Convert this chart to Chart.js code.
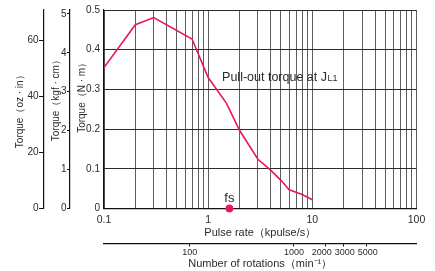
<!DOCTYPE html>
<html>
<head>
<meta charset="utf-8">
<script src="https://cdn.jsdelivr.net/npm/chart.js@4/dist/chart.umd.min.js"></script>
<style>
html,body{margin:0;padding:0;background:#fff;}
canvas{display:block;}
</style>
</head>
<body>
<canvas id="c" width="435" height="271"></canvas>
<script>
// ---- data ----
const pulseRates = [0.1, 0.2, 0.3, 0.7, 1, 1.5, 2, 3, 4, 5, 6, 8, 10];          // kpulse/s
const pullOutTorque = [0.355, 0.463, 0.481, 0.427, 0.33, 0.265, 0.197, 0.124, 0.096, 0.071, 0.047, 0.035, 0.022]; // N·m
const fsRate = [1.6];
const fsTorque = [0];
const pulseGrid = [0.1,0.2,0.3,0.4,0.5,0.6,0.7,0.8,0.9,1,2,3,4,5,6,7,8,9,10,20,30,40,50,60,70,80,90,100];
const pulseLabels = [0.1, 1, 10, 100];
const rotationTicks = [100, 1000, 2000, 3000, 5000];
const nmTicks = [0, 0.1, 0.2, 0.3, 0.4, 0.5];
const kgfTicks = [0, 1, 2, 3, 4, 5];
const ozTicks = [0, 20, 40, 60];

const NM_MAX = 0.5;
const KGF_PER_NM = 1 / 0.0980665;
const OZIN_PER_NM = 1 / 0.00706155;
const RPM_PER_KPPS = 150;

const RED = '#e8175d';
const FONT = "'Liberation Sans', Arial, sans-serif";
const TXT = '#2b2b2b';

const curve = pulseRates.map((x, i) => ({x, y: pullOutTorque[i]}));
const fsPts = fsRate.map((x, i) => ({x, y: fsTorque[i]}));

const setTicks = (vals) => (scale) => { scale.ticks = vals.map(v => ({value: v})); };

// keep crowded rotation labels from overlapping (spread them around their ticks)
const spreadLabels = {
  id: 'spreadLabels',
  beforeDraw(chart) {
    const s = chart.scales.x2;
    const items = s.getLabelItems(chart.chartArea);
    const ctx = chart.ctx;
    ctx.save();
    ctx.font = "9px " + FONT;
    const c = items.map(it => it.options.translation[0]);
    const w = items.map(it => ctx.measureText(String(it.label)).width);
    ctx.restore();
    const gap = 3;
    for (let k = 0; k < 60; k++) {
      for (let i = 0; i < c.length - 1; i++) {
        const ov = (c[i] + w[i] / 2 + gap) - (c[i + 1] - w[i + 1] / 2);
        if (ov > 0) { c[i] -= ov * 0.6; c[i + 1] += ov * 0.4; }
      }
    }
    items.forEach((it, i) => { it.options.translation[0] = c[i]; });
  }
};

const annot = {
  id: 'annot',
  afterDatasetsDraw(chart) {
    const {ctx, scales: {x, y}} = chart;
    ctx.save();
    ctx.fillStyle = TXT;
    ctx.textBaseline = 'alphabetic';
    ctx.textAlign = 'left';
    ctx.font = "12.5px " + FONT;
    const ax = x.getPixelForValue(1.36), ay = y.getPixelForValue(0.333) + 4.5;
    const main = 'Pull-out torque at J';
    ctx.fillText(main, ax, ay);
    const w = ctx.measureText(main).width;
    ctx.font = "9px " + FONT;
    ctx.fillText('L1', ax + w + 0.5, ay);
    ctx.font = "13px " + FONT;
    ctx.textAlign = 'center';
    ctx.fillText('fs', x.getPixelForValue(fsRate[0]), y.getPixelForValue(fsTorque[0]) - 7);
    ctx.restore();
  }
};

new Chart(document.getElementById('c'), {
  type: 'line',
  data: {
    datasets: [
      {data: curve, borderColor: RED, borderWidth: 1.6, pointRadius: 0, tension: 0, fill: false, xAxisID: 'x', yAxisID: 'y'},
      {type: 'scatter', data: fsPts, backgroundColor: RED, borderColor: RED, pointRadius: 3.6, clip: false, xAxisID: 'x', yAxisID: 'y'}
    ]
  },
  options: {
    responsive: false,
    animation: false,
    events: [],
    layout: {padding: {left: 8, right: 18.5, top: 7, bottom: 0}},
    plugins: {legend: {display: false}, tooltip: {enabled: false}},
    scales: {
      x: {
        type: 'logarithmic', position: 'bottom', weight: 0, min: 0.1, max: 100,
        afterBuildTicks: setTicks(pulseGrid),
        afterFit: s => { s.height = 35; },
        grid: {color: '#5e5e5e', lineWidth: 1, drawTicks: false},
        border: {color: '#111', width: 1.2},
        ticks: {autoSkip: false, maxRotation: 0, padding: 5, color: TXT, font: {family: FONT, size: 10.5},
          callback: v => pulseLabels.includes(v) ? String(v) : ''},
        title: {display: true, text: 'Pulse rate（kpulse/s）', color: TXT, font: {family: FONT, size: 11}, padding: {top: 0, bottom: 4}}
      },
      x2: {
        type: 'logarithmic', position: 'bottom', weight: 1,
        min: 0.1 * RPM_PER_KPPS, max: 100 * RPM_PER_KPPS,
        afterBuildTicks: setTicks(rotationTicks),
        afterFit: s => { s.height = 27.5; },
        grid: {drawOnChartArea: false, drawTicks: true, tickLength: 3, color: '#111'},
        border: {color: '#111', width: 1.2},
        ticks: {autoSkip: false, maxRotation: 0, padding: 1, color: TXT, font: {family: FONT, size: 9},
          callback: v => String(v)},
        title: {display: true, text: 'Number of rotations（min⁻¹）', color: TXT, font: {family: FONT, size: 11}, padding: {top: 0, bottom: 0}}
      },
      y: {
        type: 'linear', position: 'left', weight: 0, min: 0, max: NM_MAX,
        afterBuildTicks: setTicks(nmTicks),
        afterFit: s => { s.width = 34; },
        grid: {color: '#2a2a2a', lineWidth: 1, drawTicks: false},
        border: {color: '#111', width: 1.2},
        ticks: {padding: 4, color: TXT, font: {family: FONT, size: 10},
          callback: v => v === 0 ? '0' : v.toFixed(1)},
        title: {display: true, text: '          Torque（N · m）', color: TXT, font: {family: FONT, size: 10}, padding: {top: 6, bottom: 0}}
      },
      y2: {
        type: 'linear', position: 'left', weight: 1, min: 0, max: NM_MAX * KGF_PER_NM,
        afterBuildTicks: setTicks(kgfTicks),
        afterFit: s => { s.width = 26; },
        grid: {drawOnChartArea: false, drawTicks: true, tickLength: 3, color: '#111'},
        border: {color: '#111', width: 1.2},
        ticks: {padding: 0.5, color: TXT, font: {family: FONT, size: 10}, callback: v => String(v)},
        title: {display: true, text: '        Torque（kgf · cm）', color: TXT, font: {family: FONT, size: 10}, padding: {top: 6, bottom: 0}}
      },
      y3: {
        type: 'linear', position: 'left', weight: 2, min: 0, max: NM_MAX * OZIN_PER_NM,
        afterBuildTicks: setTicks(ozTicks),
        afterFit: s => { s.width = 36; },
        grid: {drawOnChartArea: false, drawTicks: true, tickLength: 5, color: '#111'},
        border: {color: '#111', width: 1.2},
        ticks: {padding: 0.5, color: TXT, font: {family: FONT, size: 10}, callback: v => String(v)},
        title: {display: true, text: 'Torque（oz · in）', color: TXT, font: {family: FONT, size: 10}, padding: {top: 6, bottom: 0}}
      }
    }
  },
  plugins: [spreadLabels, annot]
});
</script>
</body>
</html>
